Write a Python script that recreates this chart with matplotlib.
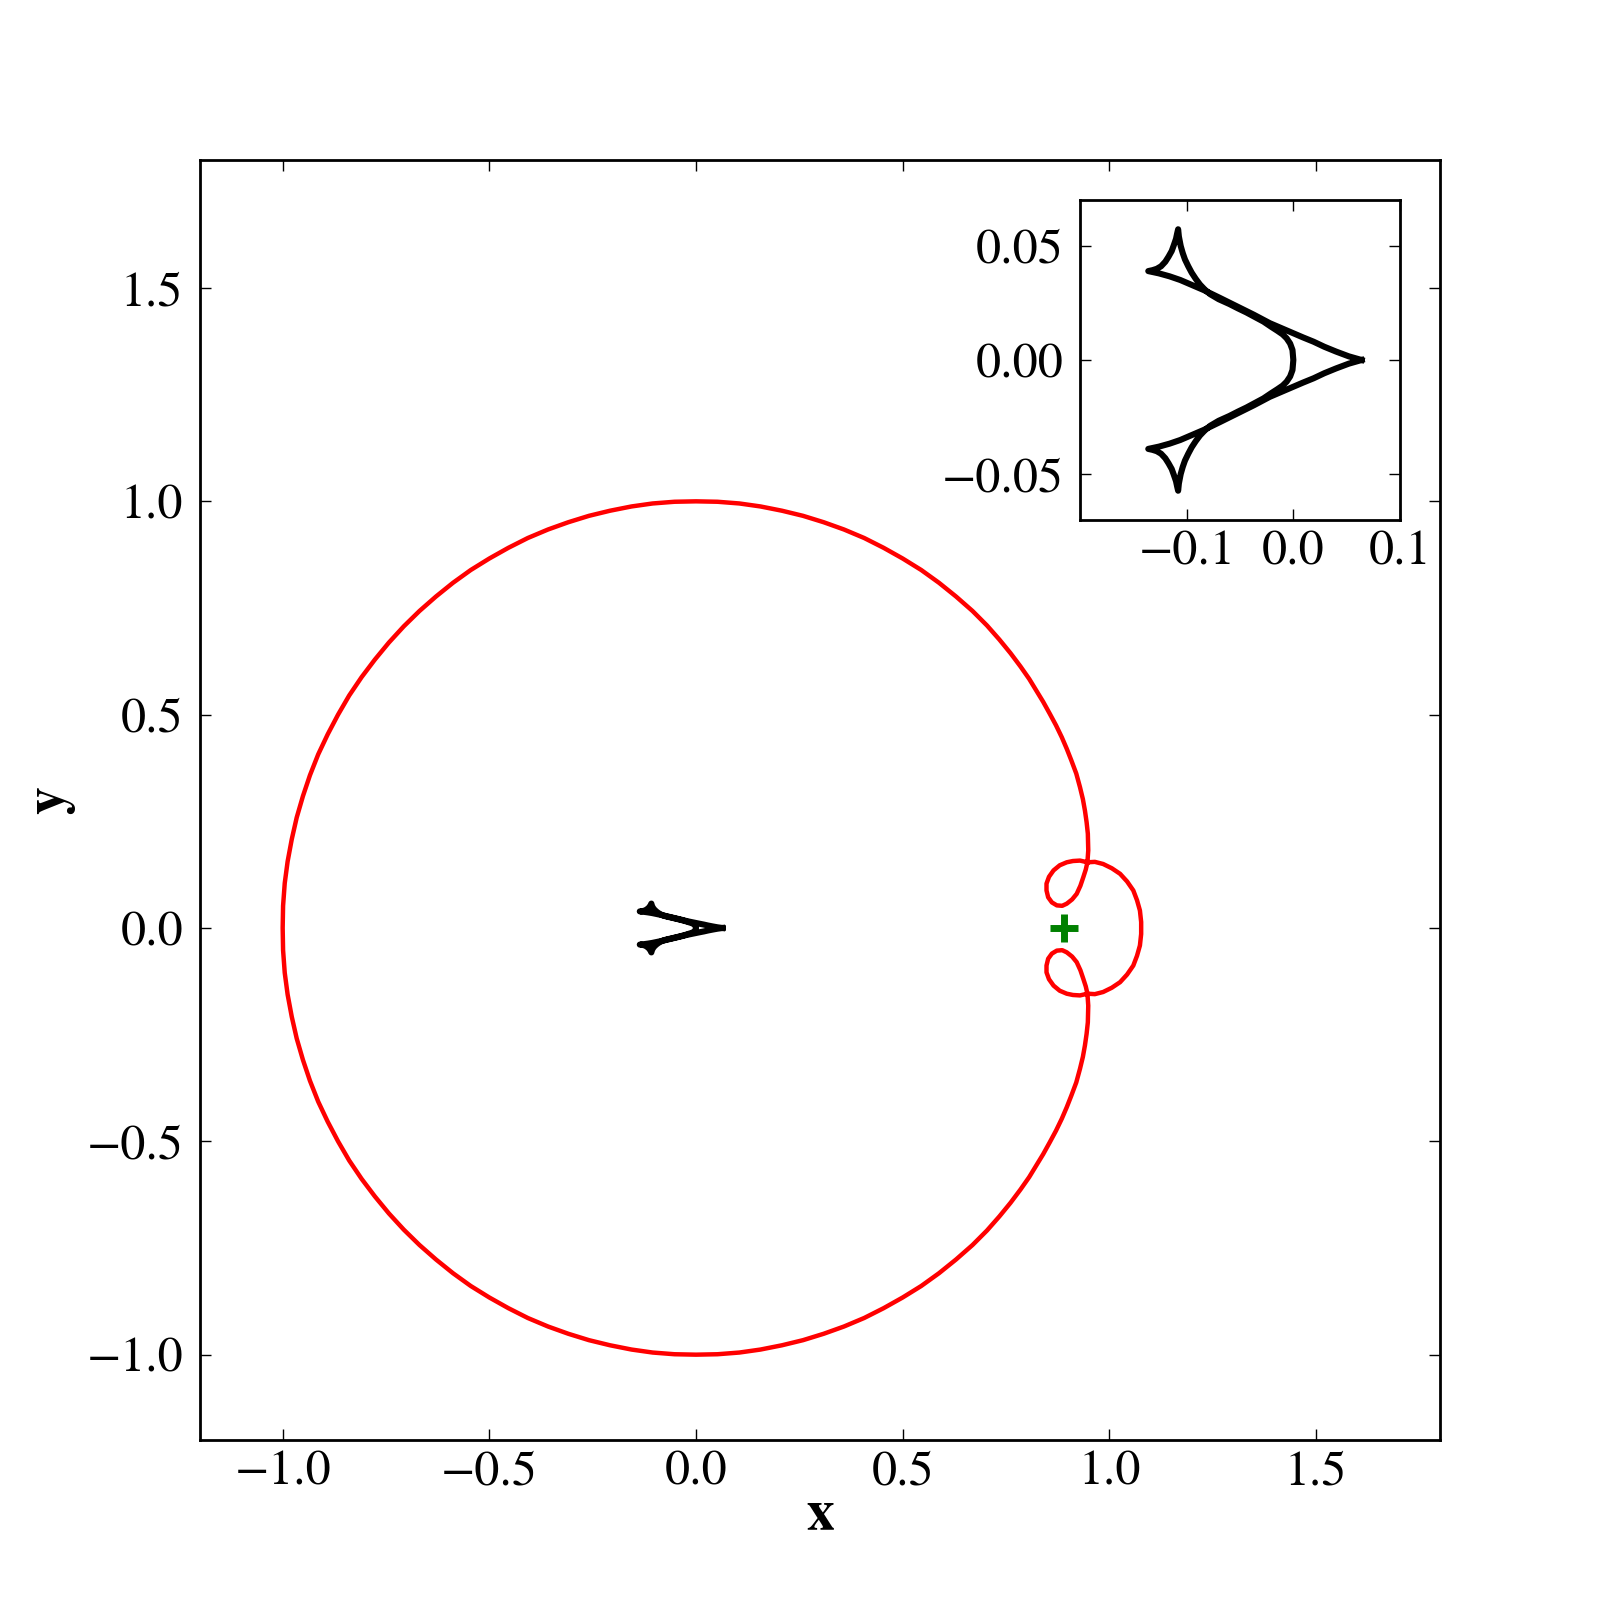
import matplotlib
matplotlib.use('Agg')
import matplotlib.pyplot as plt

plt.rcParams['font.family'] = ['STIXGeneral', 'DejaVu Serif']
plt.rcParams['xtick.direction'] = 'in'
plt.rcParams['ytick.direction'] = 'in'
plt.rcParams['xtick.top'] = True
plt.rcParams['ytick.right'] = True
plt.rcParams['xtick.major.size'] = 4
plt.rcParams['ytick.major.size'] = 4
plt.rcParams['xtick.major.width'] = 0.5
plt.rcParams['ytick.major.width'] = 0.5
plt.rcParams['xtick.major.pad'] = 3.5
plt.rcParams['ytick.major.pad'] = 6
plt.rcParams['axes.linewidth'] = 1.0

# critical curve (red), traced as one closed line
# upper right arc, from the upper crossing up to the top
arc_ur_x = [0.947, 0.949, 0.948, 0.945, 0.941, 0.936, 0.929, 0.920, 0.908, 0.897,
            0.885, 0.871, 0.856, 0.840, 0.823, 0.806, 0.785, 0.761, 0.734, 0.704,
            0.669, 0.629, 0.588, 0.545, 0.500, 0.454, 0.407, 0.358, 0.309, 0.259,
            0.208, 0.156, 0.105, 0.052, 0.000]
arc_ur_y = [0.154, 0.182, 0.221, 0.248, 0.275, 0.302, 0.330, 0.362, 0.393, 0.420,
            0.447, 0.475, 0.502, 0.530, 0.557, 0.584, 0.613, 0.644, 0.676, 0.709,
            0.743, 0.777, 0.809, 0.839, 0.866, 0.891, 0.914, 0.934, 0.951, 0.966,
            0.978, 0.988, 0.995, 0.999, 1.000]
# left arc, top to bottom
arc_l_x = [-0.052, -0.105, -0.156, -0.208, -0.259, -0.309, -0.358, -0.407, -0.454, -0.500,
           -0.545, -0.588, -0.629, -0.669, -0.707, -0.743, -0.777, -0.809, -0.839, -0.866,
           -0.891, -0.914, -0.934, -0.951, -0.966, -0.978, -0.988, -0.995, -0.999, -1.000,
           -0.999, -0.995, -0.988, -0.978, -0.966, -0.951, -0.934, -0.914, -0.891, -0.866,
           -0.839, -0.809, -0.777, -0.743, -0.707, -0.669, -0.629, -0.588, -0.545, -0.500,
           -0.454, -0.407, -0.358, -0.309, -0.259, -0.208, -0.156, -0.105, -0.052]
arc_l_y = [0.999, 0.995, 0.988, 0.978, 0.966, 0.951, 0.934, 0.914, 0.891, 0.866,
           0.839, 0.809, 0.777, 0.743, 0.707, 0.669, 0.629, 0.588, 0.545, 0.500,
           0.454, 0.407, 0.358, 0.309, 0.259, 0.208, 0.156, 0.105, 0.052, 0.000,
           -0.052, -0.105, -0.156, -0.208, -0.259, -0.309, -0.358, -0.407, -0.454, -0.500,
           -0.545, -0.588, -0.629, -0.669, -0.707, -0.743, -0.777, -0.809, -0.839, -0.866,
           -0.891, -0.914, -0.934, -0.951, -0.966, -0.978, -0.988, -0.995, -0.999]
# lower right arc, bottom up to the lower crossing
arc_lr_x = [0.000, 0.052, 0.105, 0.156, 0.208, 0.259, 0.309, 0.358, 0.407, 0.454,
            0.500, 0.545, 0.588, 0.629, 0.669, 0.704, 0.734, 0.761, 0.785, 0.806,
            0.823, 0.840, 0.856, 0.871, 0.885, 0.897, 0.908, 0.920, 0.929, 0.936,
            0.941, 0.945, 0.948, 0.949, 0.947]
arc_lr_y = [-1.000, -0.999, -0.995, -0.988, -0.978, -0.966, -0.951, -0.934, -0.914, -0.891,
            -0.866, -0.839, -0.809, -0.777, -0.743, -0.709, -0.676, -0.644, -0.613, -0.584,
            -0.557, -0.530, -0.502, -0.475, -0.447, -0.420, -0.393, -0.362, -0.330, -0.302,
            -0.275, -0.248, -0.221, -0.182, -0.154]
# lower small loop
loop_lo_x = [0.943, 0.937, 0.930, 0.921, 0.910, 0.897, 0.886, 0.873, 0.861, 0.852,
             0.848, 0.848, 0.854, 0.865, 0.880, 0.897, 0.912, 0.929, 0.947]
loop_lo_y = [-0.137, -0.119, -0.099, -0.080, -0.067, -0.057, -0.052, -0.053, -0.060, -0.072,
             -0.088, -0.104, -0.120, -0.135, -0.147, -0.154, -0.157, -0.158, -0.154]
# outer loop round the lens
loop_out_x = [0.965, 0.985, 1.006, 1.026, 1.043, 1.058, 1.067, 1.074, 1.077, 1.077,
              1.074, 1.067, 1.058, 1.043, 1.026, 1.006, 0.985, 0.965, 0.947]
loop_out_y = [-0.155, -0.150, -0.140, -0.127, -0.109, -0.088, -0.065, -0.041, -0.014, 0.014,
              0.041, 0.065, 0.088, 0.109, 0.127, 0.140, 0.150, 0.155, 0.154]
# upper small loop
loop_up_x = [0.929, 0.912, 0.897, 0.880, 0.865, 0.854, 0.848, 0.848, 0.852, 0.861,
             0.873, 0.886, 0.897, 0.910, 0.921, 0.930, 0.937, 0.943, 0.947]
loop_up_y = [0.158, 0.157, 0.154, 0.147, 0.135, 0.120, 0.104, 0.088, 0.072, 0.060,
             0.053, 0.052, 0.057, 0.067, 0.080, 0.099, 0.119, 0.137, 0.154]

crit_x = arc_ur_x + arc_l_x + arc_lr_x + loop_lo_x + loop_out_x + loop_up_x
crit_y = arc_ur_y + arc_l_y + arc_lr_y + loop_lo_y + loop_out_y + loop_up_y

# caustic (black), closed line
caus_x = [0.064, 0.052, 0.040, 0.029, 0.019, 0.009, 0.000, -0.011, -0.022, -0.037,
          -0.053, -0.069, -0.084, -0.096, -0.106, -0.116, -0.126, -0.136,
          -0.132, -0.128, -0.124, -0.120, -0.117, -0.114, -0.112, -0.110, -0.109, -0.108,
          -0.1073, -0.1056, -0.1037, -0.1016, -0.0985, -0.0953, -0.0915, -0.0875, -0.083, -0.078,
          -0.070, -0.060, -0.052, -0.044, -0.036, -0.028, -0.021, -0.015, -0.010, -0.0063,
          -0.003, -0.0008, 0.000,
          -0.0008, -0.003, -0.0063, -0.010, -0.015, -0.021, -0.028, -0.036, -0.044, -0.052,
          -0.060, -0.070, -0.078, -0.083, -0.0875, -0.0915, -0.0953, -0.0985, -0.1016, -0.1037,
          -0.1056, -0.1073,
          -0.108, -0.109, -0.110, -0.112, -0.114, -0.117, -0.120, -0.124, -0.128, -0.132,
          -0.136, -0.126, -0.116, -0.106, -0.096, -0.084, -0.069, -0.053, -0.037, -0.022,
          -0.011, 0.000, 0.009, 0.019, 0.029, 0.040, 0.052, 0.064]
caus_y = [0.0, 0.0016, 0.0037, 0.0058, 0.0080, 0.0099, 0.0117, 0.0139, 0.0161, 0.0198,
          0.0235, 0.0272, 0.0306, 0.0330, 0.0350, 0.0366, 0.0379, 0.0389,
          0.0393, 0.0399, 0.0410, 0.0430, 0.0452, 0.0477, 0.0503, 0.0530, 0.0552, 0.0572,
          0.0540, 0.0499, 0.0468, 0.0440, 0.0410, 0.0382, 0.0355, 0.0330, 0.0308, 0.0288,
          0.0266, 0.0245, 0.0226, 0.0208, 0.0188, 0.0168, 0.0146, 0.0128, 0.0112, 0.0095,
          0.0072, 0.0044, 0.0,
          -0.0044, -0.0072, -0.0095, -0.0112, -0.0128, -0.0146, -0.0168, -0.0188, -0.0208, -0.0226,
          -0.0245, -0.0266, -0.0288, -0.0308, -0.0330, -0.0355, -0.0382, -0.0410, -0.0440, -0.0468,
          -0.0499, -0.0540,
          -0.0572, -0.0552, -0.0530, -0.0503, -0.0477, -0.0452, -0.0430, -0.0410, -0.0399, -0.0393,
          -0.0389, -0.0379, -0.0366, -0.0350, -0.0330, -0.0306, -0.0272, -0.0235, -0.0198, -0.0161,
          -0.0139, -0.0117, -0.0099, -0.0080, -0.0058, -0.0037, -0.0016, 0.0]

# lens position
lens_x = [0.89]
lens_y = [0.0]

fig = plt.figure(figsize=(8, 8), dpi=200)
ax = fig.add_axes([0.125, 0.1, 0.775, 0.8])
ax.plot(crit_x, crit_y, color='red', lw=1.6)
ax.plot(caus_x, caus_y, color='black', lw=2.2)
ax.plot(lens_x, lens_y, '+', color='green', ms=10, mew=2.5)
ax.set_xlim(-1.2, 1.8)
ax.set_ylim(-1.2, 1.8)
ax.set_xticks([-1.0, -0.5, 0.0, 0.5, 1.0, 1.5])
ax.set_yticks([-1.0, -0.5, 0.0, 0.5, 1.0, 1.5])
ax.tick_params(labelsize=18)
ax.set_xlabel('x', fontsize=20, fontweight='bold', labelpad=-2)
ax.set_ylabel('y', fontsize=20, fontweight='bold')

ins = fig.add_axes([0.675, 0.675, 0.2, 0.2])
ins.plot(caus_x, caus_y, color='black', lw=2.2)
ins.set_xlim(-0.2, 0.1)
ins.set_ylim(-0.07, 0.07)
ins.set_xticks([-0.1, 0.0, 0.1])
ins.set_yticks([-0.05, 0.0, 0.05])
ins.set_xticklabels(['\u22120.1', '0.0', '0.1'])
ins.set_yticklabels(['\u22120.05', '0.00', '0.05'])
ins.tick_params(labelsize=18)

fig.savefig('out.png', dpi=200)
